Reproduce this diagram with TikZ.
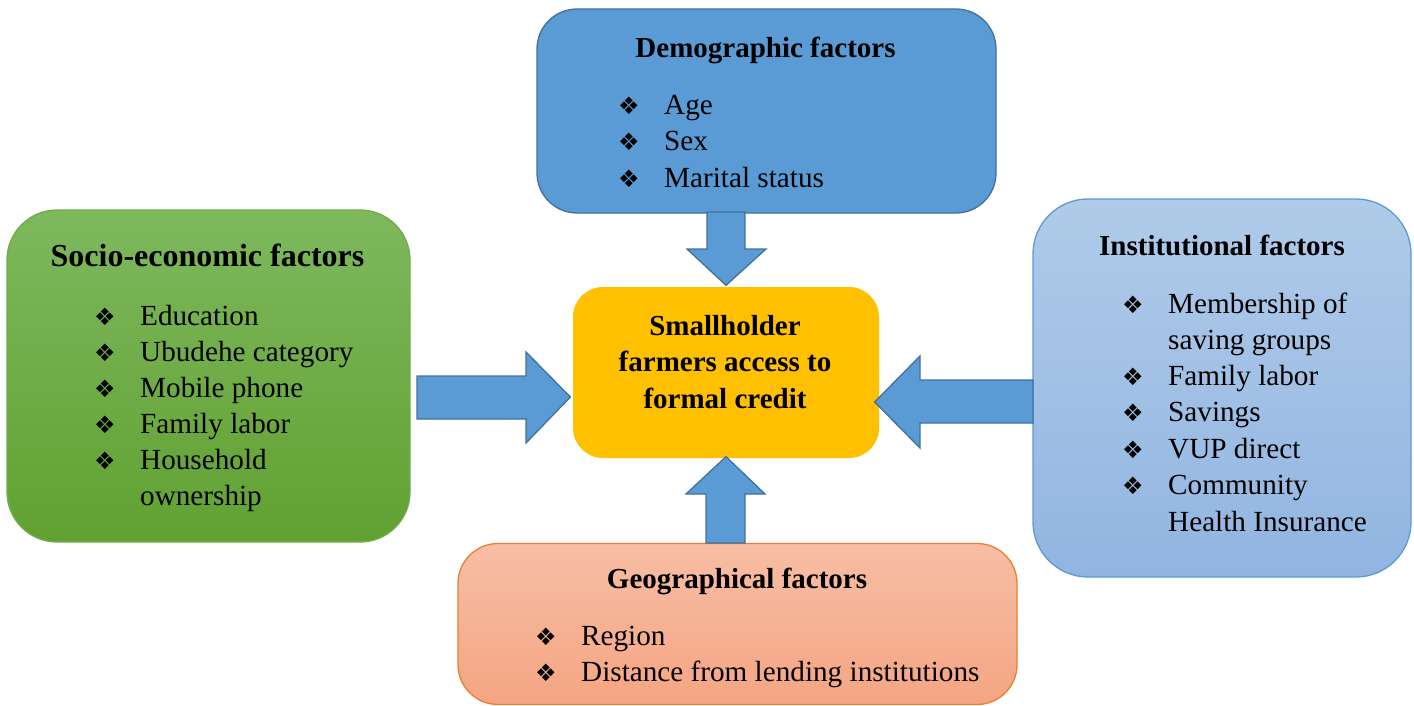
\documentclass[tikz,border=0pt]{standalone}
\usepackage{fontspec}
\usetikzlibrary{calc}
\setmainfont{Liberation Serif}
\newfontfamily\dejavu{DejaVu Sans}
\definecolor{demoblue}{HTML}{5B9BD5}
\definecolor{demoedge}{HTML}{41719C}
\definecolor{greentop}{HTML}{7EB85E}
\definecolor{greenbot}{HTML}{61A131}
\definecolor{greenedge}{HTML}{70AD47}
\definecolor{insttop}{HTML}{B0CBE9}
\definecolor{instbot}{HTML}{91B5E1}
\definecolor{instedge}{HTML}{5B9BD5}
\definecolor{geotop}{HTML}{F8BEA5}
\definecolor{geobot}{HTML}{F4A582}
\definecolor{geoedge}{HTML}{ED7D31}
\definecolor{coreyellow}{HTML}{FFC000}
\begin{document}
\begin{tikzpicture}[x=1pt,y=-1pt,
  box/.style={rectangle, inner sep=0pt, line width=1.3pt},
  ttl/.style={anchor=base, inner sep=0pt, font=\fontsize{29}{36}\selectfont\bfseries},
  bigttl/.style={anchor=base, inner sep=0pt, font=\fontsize{32}{38}\selectfont\bfseries},
  txt/.style={anchor=base west, inner sep=0pt, font=\fontsize{29.2}{36}\selectfont},
  bul/.style={anchor=base west, inner sep=0pt, font=\fontsize{24}{30}\dejavu},
  blockarrow/.style={fill=demoblue, draw=demoedge, line width=1.3pt, line join=miter}]
\useasboundingbox (0,0) rectangle (1414,706);

% boxes
\node[box, rounded corners=40pt, fill=demoblue, draw=demoedge,
      minimum width=459pt, minimum height=204pt] (demo) at (766.5,111) {};
\node[box, rounded corners=50pt, top color=greentop, bottom color=greenbot, draw=greenedge,
      minimum width=403pt, minimum height=332pt] (socio) at (208.5,376) {};
\node[box, rounded corners=55pt, top color=insttop, bottom color=instbot, draw=instedge,
      minimum width=378pt, minimum height=378pt] (inst) at (1222,388) {};
\node[box, rounded corners=40pt, top color=geotop, bottom color=geobot, draw=geoedge,
      minimum width=559pt, minimum height=161pt] (geo) at (737.5,624) {};
\node[box, rounded corners=30pt, fill=coreyellow,
      minimum width=306pt, minimum height=171pt] (core) at (726,372.5) {};

% arrows
\draw[blockarrow] (707,212) -- (707,249) -- (687,249) -- ($(core.north)+(0,-1)$)
  -- (766,249) -- (745,249) -- (745,212) -- cycle;
\draw[blockarrow] (417,376) -- (526,376) -- (526,352) -- ($(core.west)+(-2,24.5)$)
  -- (526,443) -- (526,419) -- (417,419) -- cycle;
\draw[blockarrow] (1033,380) -- (920,380) -- (920,356) -- ($(core.east)+(-5,29.5)$)
  -- (920,448) -- (920,423) -- (1033,423) -- cycle;
\draw[blockarrow] (706,543) -- (706,494) -- (686,494) -- ($(core.south)+(0,-2)$)
  -- (765,494) -- (745,494) -- (745,543) -- cycle;

% centre text
\node[ttl] (c1) at (725,335) {Smallholder};
\node[ttl] (c2) at (725,371) {farmers access to};
\node[ttl] (c3) at (725,408) {formal credit};

% demographic
\node[ttl] (dt) at (765.5,58) {Demographic factors};
\node[bul] (d1b) at (618,115) {❖}; \node[txt] (d1) at (664,115) {Age};
\node[bul] (d2b) at (618,151) {❖}; \node[txt] (d2) at (664,151) {Sex};
\node[bul] (d3b) at (618,187) {❖}; \node[txt] (d3) at (664,187) {Marital status};

% socio-economic
\node[bigttl] (st) at (207.5,266) {Socio-economic factors};
\node[bul] (s1b) at (94,325) {❖}; \node[txt] (s1) at (140,325) {Education};
\node[bul] (s2b) at (94,361) {❖}; \node[txt] (s2) at (140,361) {Ubudehe category};
\node[bul] (s3b) at (94,397) {❖}; \node[txt] (s3) at (140,397) {Mobile phone};
\node[bul] (s4b) at (94,433) {❖}; \node[txt] (s4) at (140,433) {Family labor};
\node[bul] (s5b) at (94,469) {❖}; \node[txt] (s5) at (140,469) {Household};
\node[txt] (s6) at (140,505) {ownership};

% institutional
\node[ttl] (it) at (1222,255) {Institutional factors};
\node[bul] (i1b) at (1122,313) {❖}; \node[txt] (i1) at (1168,313) {Membership of};
\node[txt] (i2) at (1168,349) {saving groups};
\node[bul] (i3b) at (1122,385) {❖}; \node[txt] (i3) at (1168,385) {Family labor};
\node[bul] (i4b) at (1122,421) {❖}; \node[txt] (i4) at (1168,421) {Savings};
\node[bul] (i5b) at (1122,458) {❖}; \node[txt] (i5) at (1168,458) {VUP direct};
\node[bul] (i6b) at (1122,494) {❖}; \node[txt] (i6) at (1168,494) {Community};
\node[txt] (i7) at (1168,531) {Health Insurance};

% geographical
\node[ttl] (gt) at (737,588) {Geographical factors};
\node[bul] (g1b) at (535,645) {❖}; \node[txt] (g1) at (581,645) {Region};
\node[bul] (g2b) at (535,681) {❖}; \node[txt] (g2) at (581,681) {Distance from lending institutions};
\end{tikzpicture}
\end{document}
